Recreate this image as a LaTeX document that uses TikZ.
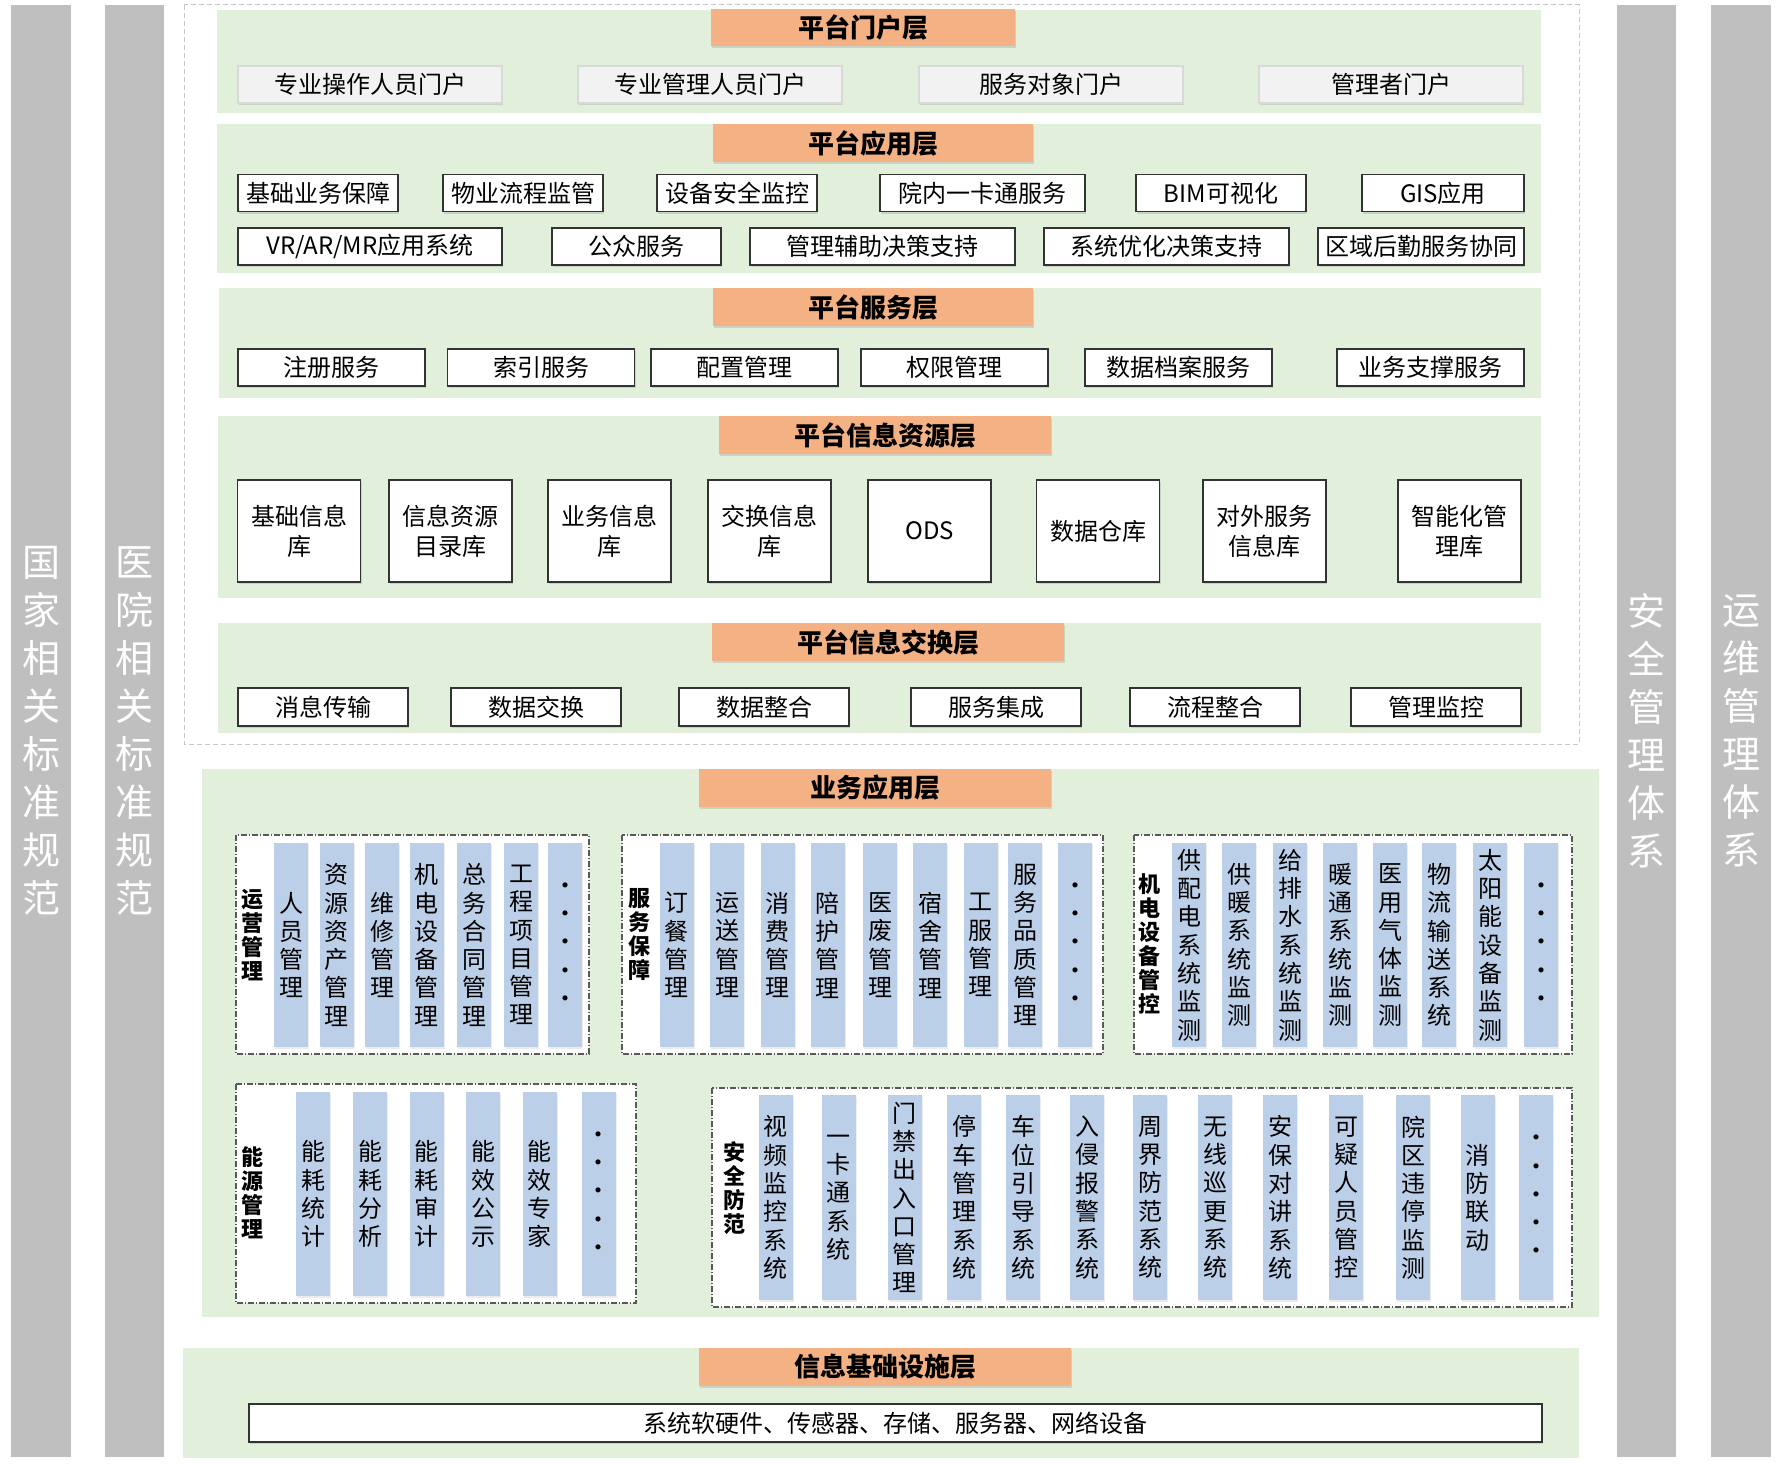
\documentclass[tikz,border=0pt]{standalone}
\usepackage{fontspec}
\setmainfont{Noto Sans CJK SC}
\usetikzlibrary{shadows}
\definecolor{panelgreen}{HTML}{E2EFDA}
\definecolor{headorange}{HTML}{F4B183}
\definecolor{bargray}{HTML}{BFBFBF}
\definecolor{colblue}{HTML}{BCCFE8}
\definecolor{portalgray}{HTML}{F2F2F2}
\begin{document}
\begin{tikzpicture}[x=1pt,y=-1pt,
	panel/.style={fill=panelgreen},
	head/.style={fill=headorange,inner sep=0,font=\fontsize{26}{30}\selectfont\bfseries,
		drop shadow={shadow xshift=1pt,shadow yshift=-2pt,opacity=0.25,fill=gray}},
	box/.style={draw=black!80,line width=1.2pt,fill=white,inner sep=0,minimum height=37,
		font=\fontsize{24}{30}\selectfont,align=center,
		drop shadow={shadow xshift=1pt,shadow yshift=-2pt,opacity=0.25,fill=gray}},
	pbox/.style={box,draw=black!15,fill=portalgray},
	col/.style={fill=colblue,inner sep=0,minimum width=34,minimum height=204,
		align=center,font=\fontsize{24}{28.3}\selectfont,
		drop shadow={shadow xshift=1pt,shadow yshift=-1.5pt,opacity=0.15,fill=gray}},
	grp/.style={draw=black!65,line width=1.2pt,fill=white,
		dash pattern=on 6pt off 2pt on 1pt off 2pt},
	glabel/.style={align=center,inner sep=0,font=\fontsize{22}{24}\selectfont\bfseries},
	bar/.style={fill=bargray,inner sep=0,text=white,align=center,font=\fontsize{38}{48}\selectfont}]
	\useasboundingbox (0,0) rectangle (1781,1464);
	% side bars
	\node[bar,minimum width=60,minimum height=1452] (std1) at (41,731) {国\\家\\相\\关\\标\\准\\规\\范};
	\node[bar,minimum width=59,minimum height=1452] (std2) at (134.5,731) {医\\院\\相\\关\\标\\准\\规\\范};
	\node[bar,minimum width=59,minimum height=1452] (safe) at (1646.5,731) {安\\全\\管\\理\\体\\系};
	\node[bar,minimum width=60,minimum height=1452] (ops) at (1741,731) {运\\维\\管\\理\\体\\系};
	% platform frame and panels
	\draw[black!22,line width=1pt,dash pattern=on 5pt off 3pt] (184,5) rectangle (1579,744);
	\fill[panel] (217,10) rectangle (1541,113);
	\fill[panel] (217,124) rectangle (1541,273);
	\fill[panel] (219,288) rectangle (1541,398);
	\fill[panel] (218,416) rectangle (1541,598);
	\fill[panel] (218,623) rectangle (1541,733);
	\fill[panel] (202,769) rectangle (1599,1317);
	\fill[panel] (183,1348) rectangle (1579,1458);
	% headers
	\node[head,minimum width=304,minimum height=37] (hportal) at (863,27.5) {平台门户层};
	\node[head,minimum width=320,minimum height=38] (happ) at (873,143) {平台应用层};
	\node[head,minimum width=320,minimum height=38] (hserv) at (873,307) {平台服务层};
	\node[head,minimum width=332,minimum height=38] (hres) at (885,435) {平台信息资源层};
	\node[head,minimum width=352,minimum height=38] (hexch) at (888,642) {平台信息交换层};
	\node[head,minimum width=352,minimum height=38] (hbiz) at (875,788) {业务应用层};
	\node[head,minimum width=372,minimum height=38] (hinfra) at (885,1367) {信息基础设施层};
	% portal layer
	\foreach \cx/\t [count=\i] in {370/专业操作人员门户,710/专业管理人员门户,1051/服务对象门户,1391/管理者门户}
		\node[pbox,minimum width=264] (portal\i) at (\cx,84.5) {\t};
	% application layer
	\foreach \cx/\w/\t [count=\i] in {318/160/基础业务保障,523/160/物业流程监管,737/160/设备安全监控,
		982.5/205/院内一卡通服务,1221/170/BIM可视化,1443/162/GIS应用}
		\node[box,minimum width=\w] (app\i) at (\cx,193) {\t};
	\node[box,minimum width=264] (app7) at (370,246.5) {VR/AR/MR应用系统};
	\foreach \cx/\w/\t [count=\i from 8] in {636.5/169/公众服务,882.5/265/管理辅助决策支持,
		1166.5/245/系统优化决策支持,1421/206/区域后勤服务协同}
		\node[box,minimum width=\w] (app\i) at (\cx,246.5) {\t};
	% service layer
	\foreach \cx/\t [count=\i] in {331.5/注册服务,541/索引服务,744.5/配置管理,954.5/权限管理,
		1178.5/数据档案服务,1430.5/业务支撑服务}
		\node[box,minimum width=187] (serv\i) at (\cx,367.5) {\t};
	% information resource layer
	\foreach \cx/\t [count=\i] in {299/{基础信息\\库},450.5/{信息资源\\目录库},609.5/{业务信息\\库},
		769.5/{交换信息\\库},929.5/ODS,1098/数据仓库,1264.5/{对外服务\\信息库},1459.5/{智能化管\\理库}}
		\node[box,minimum width=123,minimum height=102] (res\i) at (\cx,531) {\t};
	% information exchange layer
	\foreach \cx/\t [count=\i] in {323/消息传输,536/数据交换,764/数据整合,996/服务集成,1215/流程整合,1436/管理监控}
		\node[box,minimum width=170,minimum height=38] (exch\i) at (\cx,707) {\t};
	% business groups
	\draw[grp] (236,835) rectangle (589,1054);
	\node[glabel] (gops) at (252,935) {运\\营\\管\\理};
	\foreach \cx/\t [count=\i] in {291/{人\\员\\管\\理},336.5/{资\\源\\资\\产\\管\\理},382/{维\\修\\管\\理},
		426.5/{机\\电\\设\\备\\管\\理},474/{总\\务\\合\\同\\管\\理},521/{工\\程\\项\\目\\管\\理},565/{·\\·\\·\\·\\·}}
		\node[col] (op\i) at (\cx,945) {\t};
	\draw[grp] (622,835) rectangle (1103,1054);
	\node[glabel] (gsvc) at (639,935) {服\\务\\保\\障};
	\foreach \cx/\t [count=\i] in {676.5/{订\\餐\\管\\理},727/{运\\送\\管\\理},777.5/{消\\费\\管\\理},
		827.5/{陪\\护\\管\\理},880/{医\\废\\管\\理},930/{宿\\舍\\管\\理},980.5/{工\\服\\管\\理},
		1025/{服\\务\\品\\质\\管\\理},1075/{·\\·\\·\\·\\·}}
		\node[col] (sv\i) at (\cx,945) {\t};
	\draw[grp] (1134,835) rectangle (1572,1054);
	\node[glabel] (gmep) at (1149,944) {机\\电\\设\\备\\管\\控};
	\foreach \cx/\t [count=\i] in {1189/{供\\配\\电\\系\\统\\监\\测},1239/{供\\暖\\系\\统\\监\\测},
		1290/{给\\排\\水\\系\\统\\监\\测},1340/{暖\\通\\系\\统\\监\\测},1390/{医\\用\\气\\体\\监\\测},
		1439/{物\\流\\输\\送\\系\\统},1490/{太\\阳\\能\\设\\备\\监\\测},1541/{·\\·\\·\\·\\·}}
		\node[col] (me\i) at (\cx,945) {\t};
	\draw[grp] (236,1084) rectangle (636,1303);
	\node[glabel] (gnrg) at (252,1193) {能\\源\\管\\理};
	\foreach \cx/\t [count=\i] in {313/{能\\耗\\统\\计},370/{能\\耗\\分\\析},426.5/{能\\耗\\审\\计},
		483/{能\\效\\公\\示},539.5/{能\\效\\专\\家},598.5/{·\\·\\·\\·\\·}}
		\node[col] (en\i) at (\cx,1194) {\t};
	\draw[grp] (712,1088) rectangle (1572,1307);
	\node[glabel] (gsec) at (734,1188) {安\\全\\防\\范};
	\foreach \cx/\t [count=\i] in {775.5/{视\\频\\监\\控\\系\\统},838.5/{一\\卡\\通\\系\\统},
		904.5/{门\\禁\\出\\入\\口\\管\\理},964/{停\\车\\管\\理\\系\\统},1023/{车\\位\\引\\导\\系\\统},
		1087/{入\\侵\\报\\警\\系\\统},1150/{周\\界\\防\\范\\系\\统},1215/{无\\线\\巡\\更\\系\\统},
		1280/{安\\保\\对\\讲\\系\\统},1346/{可\\疑\\人\\员\\管\\控},1413/{院\\区\\违\\停\\监\\测},
		1477.5/{消\\防\\联\\动},1536/{·\\·\\·\\·\\·}}
		\node[col,minimum height=205] (sc\i) at (\cx,1197.5) {\t};
	% infrastructure
	\node[box,minimum width=1293,minimum height=38] (infra) at (895.5,1423) {系统软硬件、传感器、存储、服务器、网络设备};
\end{tikzpicture}
\end{document}
